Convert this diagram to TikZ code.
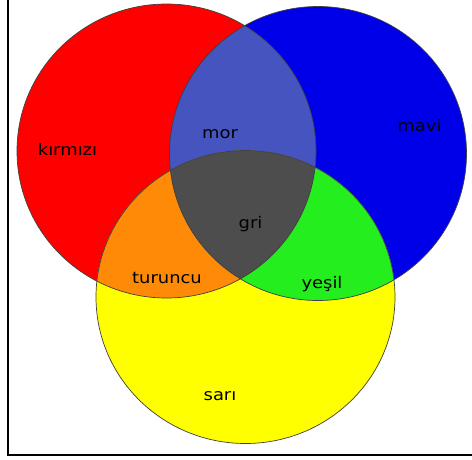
\documentclass[tikz,border=0pt]{standalone}
\usepackage{fontspec}
\setmainfont{DejaVu Sans}
\definecolor{cred}{RGB}{255,0,0}
\definecolor{cblue}{RGB}{0,0,232}
\definecolor{cyellow}{RGB}{255,255,0}
\definecolor{cmor}{RGB}{70,84,192}
\definecolor{cgri}{RGB}{77,77,77}
\definecolor{corange}{RGB}{255,138,8}
\definecolor{cgreen}{RGB}{36,238,30}
\tikzset{
  lbl/.style={font=\fontsize{16}{16}\selectfont, text=black, inner sep=0pt, xscale=1.12},
  rim/.style={draw=black!75, line width=0.7pt},
  framel/.style={draw=black, line width=2pt}
}
\begin{document}
\begin{tikzpicture}[x=1pt,y=-1pt]
\useasboundingbox (0,0) rectangle (472,459);
\fill[white] (0,0) rectangle (472,459);
\coordinate (R) at (166.5,151);
\coordinate (B) at (318,153.5);
\coordinate (Y) at (245.5,297);
\def\circR{(R) ellipse [x radius=149.5pt, y radius=147pt]}
\def\circB{(B) ellipse [x radius=148.5pt, y radius=147pt]}
\def\circY{(Y) ellipse [x radius=149.5pt, y radius=146.5pt]}
\fill[cred] \circR;
\fill[cblue] \circB;
\fill[cyellow] \circY;
\begin{scope}
  \clip \circR;
  \fill[cmor] \circB;
  \fill[corange] \circY;
\end{scope}
\begin{scope}
  \clip \circB;
  \fill[cgreen] \circY;
\end{scope}
\begin{scope}
  \clip \circR;
  \clip \circB;
  \fill[cgri] \circY;
\end{scope}
\draw[rim] \circR;
\draw[rim] \circB;
\draw[rim] \circY;
\node[lbl] (kirmizi) at (67.5,149) {kırmızı};
\node[lbl] (mor) at (220,134) {mor};
\node[lbl] (mavi) at (419.5,126) {mavi};
\node[lbl] (gri) at (250.5,224) {gri};
\node[lbl] (turuncu) at (167,278) {turuncu};
\node[lbl] (yesil) at (322,284) {yeşil};
\node[lbl] (sari) at (220,396) {sarı};
\coordinate (ftop) at (8,0);
\coordinate (fcorner) at (8,455);
\coordinate (fright) at (472,455);
\draw[framel] (ftop) -- (fcorner) -- (fright);
\end{tikzpicture}
\end{document}
